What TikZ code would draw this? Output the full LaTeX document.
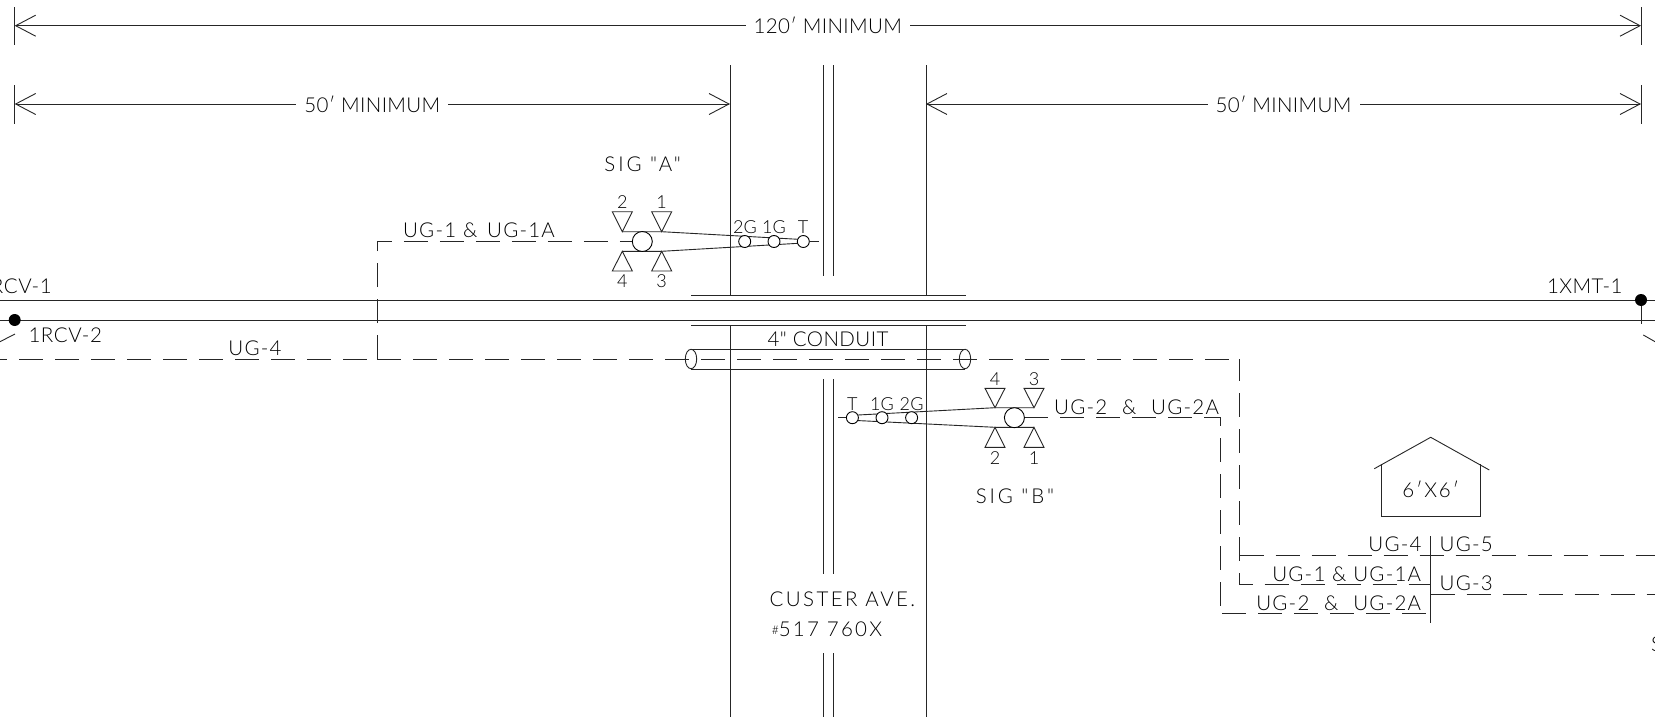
\documentclass[tikz,border=0pt]{standalone}
\usepackage{fontspec}
\newfontfamily\cad[LetterSpace=6]{Lato Light}
\newcommand{\fA}{\fontsize{20.5}{24}\selectfont\cad}
\newcommand{\fB}{\fontsize{18}{20}\selectfont\cad}
\newcommand{\ls}[2]{{\addfontfeature{LetterSpace=#1}#2}}
\usetikzlibrary{arrows.meta}
\tikzset{
 ln/.style={line width=0.9pt,black!85},
 dim/.style={ln,{Straight Barb[length=20pt,width=21pt,line width=0.9pt]}-{Straight Barb[length=20pt,width=21pt,line width=0.9pt]}},
 dsh/.style={ln,dash pattern=on 24pt off 12pt},
 lb/.style={font=\fA,inner sep=0pt,text=black},
 sm/.style={font=\fB,inner sep=0pt,text=black},
 dimlb/.style={font=\fA,inner sep=0pt,text=black,fill=white,inner xsep=8pt,inner ysep=3pt},
 bigc/.style={circle,draw,line width=0.9pt,minimum size=20pt,inner sep=0pt,fill=white},
 smc/.style={circle,draw,line width=0.9pt,minimum size=12pt,inner sep=0pt,fill=white},
 dot/.style={circle,fill=black,minimum size=12pt,inner sep=0pt},
}
\begin{document}
\begin{tikzpicture}[x=1pt,y=-1pt]
\useasboundingbox (0,0) rectangle (1655,720);
\clip (0,0) rectangle (1655,720);
\fill[white] (0,0) rectangle (1655,720);
% dimension anchors
\coordinate (L) at (14.7,25.7); \coordinate (R) at (1641,25.7);
\coordinate (L2) at (14.7,104); \coordinate (M1) at (730,104);
\coordinate (M2) at (926,104); \coordinate (R2) at (1641,104);
\draw[ln] (14.7,7) -- (14.7,45);
\draw[ln] (1641,7) -- (1641,45);
\draw[ln] (14.7,85) -- (14.7,124);
\draw[ln] (1641,85) -- (1641,124);
\draw[dim] (L) -- node[dimlb]{\ls{1.8}{120′ MINIMUM}} (R);
\draw[dim] (L2) -- node[dimlb]{\ls{1.8}{50′ MINIMUM}} (M1);
\draw[dim] (M2) -- node[dimlb]{\ls{1.8}{50′ MINIMUM}} (R2);
% road
\draw[ln] (730,65) -- (730,295.3);
\draw[ln] (926,65) -- (926,295.3);
\draw[ln] (730,325) -- (730,716.5);
\draw[ln] (926,325) -- (926,716.5);
\draw[ln] (691,295.3) -- (966,295.3);
\draw[ln] (691,325) -- (966,325);
\draw[ln] (823,65) -- (823,275.5);
\draw[ln] (833,65) -- (833,275.5);
\draw[ln] (823,379) -- (823,574);
\draw[ln] (833,379) -- (833,574);
\draw[ln] (823,653) -- (823,716.5);
\draw[ln] (833,653) -- (833,716.5);
% track
\draw[ln] (0,300) -- (1655,300);
\draw[ln] (0,320) -- (1655,320);
\node[dot] (rd) at (14.7,320) {};
\node[dot] (xd) at (1641,300) {};
\coordinate (xe) at (1641,324);
\draw[ln] (xd) -- (xe);
\draw[ln] (0,341.7) -- (15,334);
\draw[ln] (1643.3,335) -- (1655,341.7);
\node[lb,anchor=east] (r1) at (52,286) {\ls{3}{1RCV-1}};
\node[lb,anchor=west] (r2) at (28.3,335) {\ls{3}{1RCV-2}};
\node[lb,anchor=east] (x1) at (1622.7,286) {\ls{2}{1XMT-1}};
% dashed runs
\draw[dsh] (-16.7,359) -- (377.3,359);
\draw[dsh] (377.3,359) -- (1239.5,359);
\draw[dsh,dash phase=2pt] (1239.5,359) -- (1239.5,584) -- (1430.7,584);
\draw[dsh] (377.3,359) -- (377.3,241.5) -- (632.3,241.5);
\draw[dsh] (1024.4,417.7) -- (1220,417.7) -- (1220,613);
\draw[dsh] (1222.3,613) -- (1426,613);
\draw[dsh] (1239.5,555) -- (1660,555);
\draw[dsh] (1430.7,594) -- (1660,594);
\draw[ln] (1430.7,536) -- (1430.7,623);
% conduit
\draw[ln] (691,349.7) -- (965,349.7);
\draw[ln] (691,369) -- (965,369);
\draw[ln] (691,359) ellipse (5.7 and 9.7);
\draw[ln] (965,359) ellipse (5.7 and 9.7);
\node[lb] (cl) at (828,339) {\ls{2}{4" CONDUIT}};
% signal A
\draw[ln] (612.3,211.7) -- (632.3,211.7) -- (622.3,231.7) -- cycle;
\draw[ln] (651.7,211.7) -- (671.7,211.7) -- (661.7,231.7) -- cycle;
\draw[ln] (612.3,271) -- (632.3,271) -- (622.3,251.3) -- cycle;
\draw[ln] (651.7,271) -- (671.7,271) -- (661.7,251.3) -- cycle;
\draw[ln] (622.3,231.7) -- (661.7,231.7) -- (798.3,239.3);
\draw[ln] (622.3,251.3) -- (661.7,251.3) -- (798.3,243.3);
\node[bigc] (sa) at (642.3,241.5) {};
\node[smc] (a2) at (744.7,241.5) {};
\node[smc] (a1) at (774,241.5) {};
\node[smc] (at) at (803.3,241.5) {};
\coordinate (ae) at (818.7,241.5);
\draw[ln] (at) -- (ae);
\node[sm] at (622.3,202) {2};
\node[sm] at (661.7,202) {1};
\node[sm] at (622.3,281) {4};
\node[sm] at (661.7,281) {3};
\node[sm] at (745,227) {\ls{1}{2G}};
\node[sm] at (774,227) {\ls{1}{1G}};
\node[sm] at (803,227) {T};
\node[lb] at (642.7,164) {\ls{14}{SIG "A"}};
\node[lb] at (479,230) {UG-1 \& \hspace{3pt}UG-1A};
% signal B
\draw[ln] (985,388.3) -- (1005,388.3) -- (995,407.7) -- cycle;
\draw[ln] (1024,388.3) -- (1044,388.3) -- (1034,407.7) -- cycle;
\draw[ln] (985,447.3) -- (1005,447.3) -- (995,427.3) -- cycle;
\draw[ln] (1024,447.3) -- (1044,447.3) -- (1034,427.3) -- cycle;
\draw[ln] (1034,407.7) -- (995,407.7) -- (852.4,415.3);
\draw[ln] (1034,427.3) -- (995,427.3) -- (852.4,420.3);
\node[bigc] (sb) at (1014.4,417.7) {};
\node[smc] (bt) at (852.4,417.7) {};
\node[smc] (b1) at (882,417.7) {};
\node[smc] (b2) at (911.6,417.7) {};
\coordinate (be) at (838,417.7);
\draw[ln] (bt) -- (be);
\node[sm] at (995,379) {4};
\node[sm] at (1034,379) {3};
\node[sm] at (995,457.7) {2};
\node[sm] at (1034,457.7) {1};
\node[sm] at (852.4,404) {T};
\node[sm] at (882,404) {\ls{1}{1G}};
\node[sm] at (911.6,404) {\ls{1}{2G}};
\node[lb] at (1015,496.7) {\ls{14}{SIG "B"}};
\node[lb] at (1136.6,407) {UG-2\hspace{8pt} \& \hspace{8pt}UG-2A};
% street name
\node[lb,anchor=west] at (769.5,599) {\ls{11.6}{CUSTER AVE.}};
\node[lb,anchor=west] at (771.7,629) {\ls{11}{\raisebox{2pt}{\fontsize{12}{12}\selectfont\#}517 760X}};
% house
\draw[ln] (1381.7,464) -- (1381.7,516) -- (1480,516) -- (1480,464);
\draw[ln] (1374.3,468.7) -- (1430.7,437.3) -- (1489.3,470);
\node[lb] (hs) at (1430.7,489) {\ls{9}{6′X6′}};
% junction labels
\node[lb] at (1395,544) {UG-4};
\node[lb] at (1466.2,544) {UG-5};
\node[lb] at (1346.7,574) {UG-1 \& UG-1A};
\node[lb] at (1338.7,603) {UG-2\hspace{8pt} \& \hspace{8pt}UG-2A};
\node[lb] at (1466.2,583) {UG-3};
\node[lb] at (255,348) {UG-4};
\node[lb,anchor=west] at (1651,644) {S};
\end{tikzpicture}
\end{document}
